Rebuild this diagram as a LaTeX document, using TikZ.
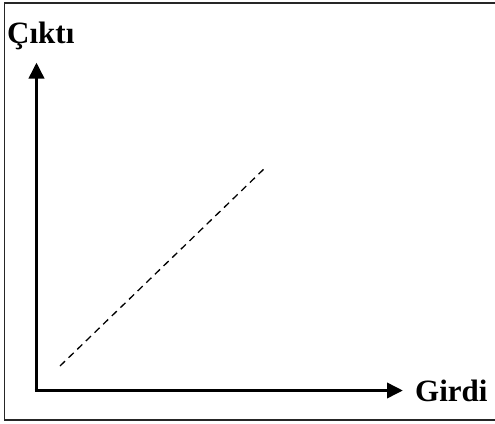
\documentclass[tikz,border=0pt]{standalone}
\usepackage{fontspec}
\setmainfont{Liberation Serif}
\usetikzlibrary{arrows.meta}
\begin{document}
\begin{tikzpicture}[x=1pt,y=-1pt,
  axis/.style={line width=3.6pt,-{Triangle[length=16pt,width=15pt]}},
  lbl/.style={font=\fontsize{31}{31}\selectfont\bfseries,inner sep=0pt,anchor=base west},
  guide/.style={line width=1.3pt,dash pattern=on 7pt off 5pt}]
\useasboundingbox (0,0) rectangle (495,423);
\draw[line width=1.6pt,black!85] (4.5,3) rectangle (498,420);
\coordinate (o) at (36.5,390.5);
\coordinate (ytop) at (36.5,62.5);
\coordinate (xend) at (403,390.5);
\coordinate (d1) at (60,366);
\coordinate (d2) at (266,167);
\draw[axis] ([yshift=1.8pt]o) -- (ytop);
\draw[axis] ([xshift=-1.8pt]o) -- (xend);
\draw[guide] (d1) -- (d2);
\node[lbl] (yl) at (7,43) {Çıktı};
\node[lbl] (xl) at (415,401) {Girdi};
\end{tikzpicture}
\end{document}
